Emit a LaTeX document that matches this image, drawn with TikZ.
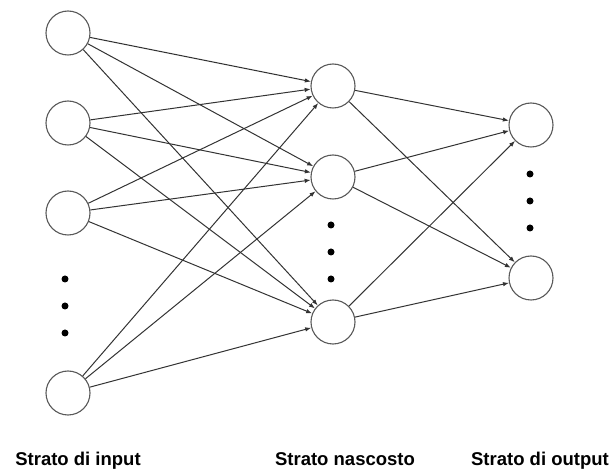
\documentclass[tikz,border=0pt]{standalone}
\usepackage{fontspec}
\setmainfont{Liberation Sans}
\usetikzlibrary{arrows.meta, positioning}

\begin{document}
\begin{tikzpicture}[
  x=1pt, y=-1pt,
  neuron/.style={circle, draw=black!65, line width=1.1pt, fill=white,
    minimum size=44pt, inner sep=0pt},
  dot/.style={circle, fill=black, minimum size=7pt, inner sep=0pt},
  layer/.style={font=\bfseries\fontsize{18.5}{22}\selectfont, anchor=base},
  arrow/.style={-{Latex[length=6pt, width=4.5pt]}, draw=black!80, line width=1pt}
]
\useasboundingbox (0,0) rectangle (614,470);

% strato di input
\node (in1) [neuron] at (68,33) {};
\node (in2) [neuron] at (68,123) {};
\node (in3) [neuron] at (68,213) {};
\node (in4) [neuron] at (68,393) {};
\node (din1) [dot] at (65,279) {};
\node (din2) [dot] at (65,306) {};
\node (din3) [dot] at (65,333) {};

% strato nascosto
\node (hid1) [neuron] at (333,86) {};
\node (hid2) [neuron] at (333,177) {};
\node (hid3) [neuron] at (333,322) {};
\node (dhid1) [dot] at (331,225) {};
\node (dhid2) [dot] at (331,252) {};
\node (dhid3) [dot] at (331,279) {};

% strato di output
\node (out1) [neuron] at (531,125) {};
\node (out2) [neuron] at (531,278) {};
\node (dout1) [dot] at (530,174) {};
\node (dout2) [dot] at (530,201) {};
\node (dout3) [dot] at (530,228) {};

% etichette
\node (lin) [layer] at (78,466) {Strato di input};
\node (lhid) [layer] at (345,466) {Strato nascosto};
\node (lout) [layer] at (540,466) {Strato di output};

\draw [arrow] (in1) -- (hid1);
\draw [arrow] (in1) -- (hid2);
\draw [arrow] (in1) -- (hid3);
\draw [arrow] (in2) -- (hid1);
\draw [arrow] (in2) -- (hid2);
\draw [arrow] (in2) -- (hid3);
\draw [arrow] (in3) -- (hid1);
\draw [arrow] (in3) -- (hid2);
\draw [arrow] (in3) -- (hid3);
\draw [arrow] (in4) -- (hid1);
\draw [arrow] (in4) -- (hid2);
\draw [arrow] (in4) -- (hid3);
\draw [arrow] (hid1) -- (out1);
\draw [arrow] (hid1) -- (out2);
\draw [arrow] (hid2) -- (out1);
\draw [arrow] (hid2) -- (out2);
\draw [arrow] (hid3) -- (out1);
\draw [arrow] (hid3) -- (out2);

\end{tikzpicture}
\end{document}
